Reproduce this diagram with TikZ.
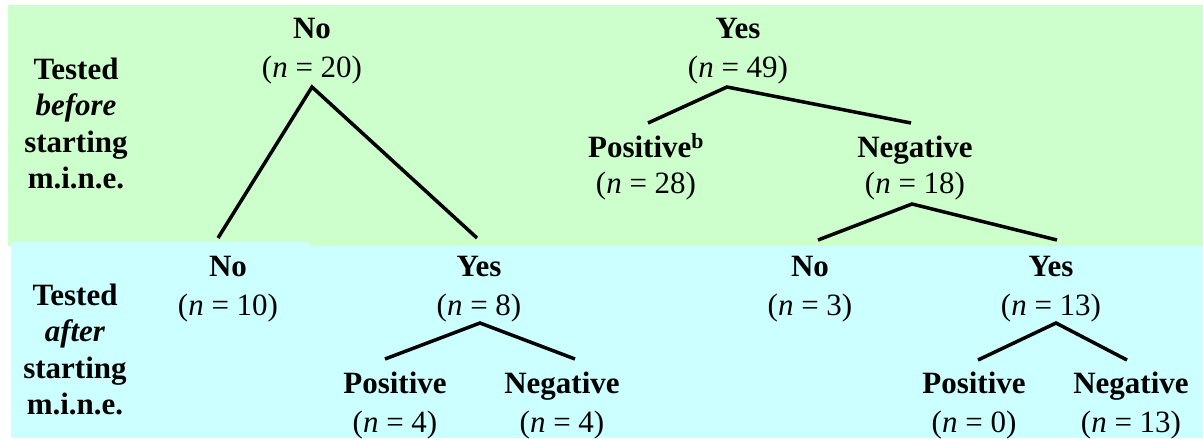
\documentclass[tikz,border=0pt]{standalone}
\usepackage{fontspec}
\setmainfont{Liberation Serif}
\definecolor{topgreen}{RGB}{204,255,204}
\definecolor{botcyan}{RGB}{204,255,255}
\tikzset{
  rowlabel/.style={align=center, inner sep=0pt, anchor=north,
    font=\fontsize{31}{36.5}\selectfont\bfseries},
  leaf/.style={align=center, inner sep=0pt, anchor=north,
    font=\fontsize{31}{39}\selectfont},
  branch/.style={line width=3.5pt, black}
}
\newcommand{\firstline}{\rule{0pt}{24pt}}
\begin{document}
\begin{tikzpicture}[x=1pt,y=-1pt]
\useasboundingbox (0,0) rectangle (1203,440);
\fill[white] (0,0) rectangle (1203,440);
% background bands
\fill[topgreen] (8,5) rectangle (1203,246);
\fill[botcyan] (11,246) rectangle (1203,438);
\fill[botcyan] (11,242) rectangle (310,246);

% row labels
\node[rowlabel] (lbltop) at (76,55) {\firstline Tested\\\textit{before}\\starting\\m.i.n.e.};
\node[rowlabel] (lblbot) at (75,281) {\firstline Tested\\\textit{after}\\starting\\m.i.n.e.};

% top row nodes
\node[leaf] (no20) at (312,14) {\firstline\textbf{No}\\(\textit{n} = 20)};
\node[leaf] (yes49) at (738,14) {\firstline\textbf{Yes}\\(\textit{n} = 49)};
\node[leaf] (posb) at (646,133) {\firstline\textbf{Positive\textsuperscript{b}}\\[-3pt](\textit{n} = 28)};
\node[leaf] (neg18) at (915,133) {\firstline\textbf{Negative}\\[-3pt](\textit{n} = 18)};

% bottom row nodes
\node[leaf] (no10) at (228,252) {\firstline\textbf{No}\\(\textit{n} = 10)};
\node[leaf] (yes8) at (479,252) {\firstline\textbf{Yes}\\(\textit{n} = 8)};
\node[leaf] (pos4) at (395,369) {\firstline\textbf{Positive}\\(\textit{n} = 4)};
\node[leaf] (neg4) at (562,369) {\firstline\textbf{Negative}\\(\textit{n} = 4)};
\node[leaf] (no3) at (810,252) {\firstline\textbf{No}\\(\textit{n} = 3)};
\node[leaf] (yes13) at (1051,252) {\firstline\textbf{Yes}\\(\textit{n} = 13)};
\node[leaf] (pos0) at (974,369) {\firstline\textbf{Positive}\\(\textit{n} = 0)};
\node[leaf] (neg13) at (1131,369) {\firstline\textbf{Negative}\\(\textit{n} = 13)};

% branch points
\coordinate (a20) at (312,87);
\coordinate (e10) at (218,238);
\coordinate (e8) at (477,238);
\coordinate (a49) at (727,87);
\coordinate (e28) at (648,123);
\coordinate (e18) at (911,123);
\coordinate (a18) at (912,204);
\coordinate (e3) at (818,240);
\coordinate (e13) at (1057,240);
\coordinate (a8) at (480,323);
\coordinate (e4p) at (385,359);
\coordinate (e4n) at (575,359);
\coordinate (a13) at (1056,323);
\coordinate (e0) at (978,360);
\coordinate (e13n) at (1127,360);

% connectors
\draw[branch] (e10) -- (a20) -- (e8);
\draw[branch] (e28) -- (a49) -- (e18);
\draw[branch] (e3) -- (a18) -- (e13);
\draw[branch] (e4p) -- (a8) -- (e4n);
\draw[branch] (e0) -- (a13) -- (e13n);
\end{tikzpicture}
\end{document}
